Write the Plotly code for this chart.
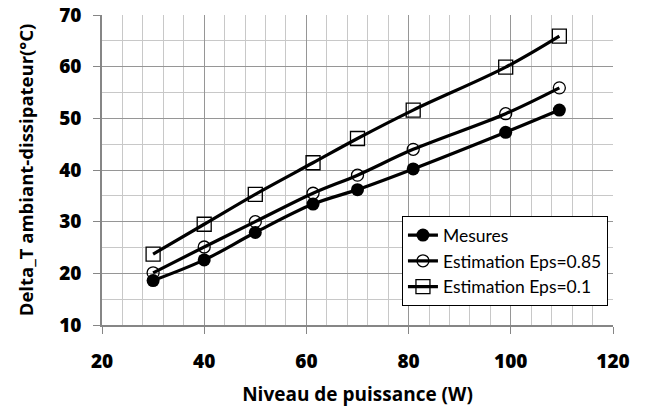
import plotly.graph_objects as go

puissance = [30, 40, 50, 61.3, 70, 80.9, 99, 109.5]
mesures = [18.6, 22.6, 27.9, 33.4, 36.2, 40.2, 47.3, 51.6]
eps_085 = [20.1, 25.1, 30.0, 35.5, 39.0, 44.0, 50.9, 55.9]
eps_01 = [23.7, 29.5, 35.3, 41.4, 46.1, 51.6, 59.9, 65.9]

series_names = ["Mesures", "Estimation Eps=0.85", "Estimation Eps=0.1"]

x_range = [20, 120]
y_range = [10, 70]

FONT = "Open Sans"
MINOR_GRID = "#c8c8c8"

fig = go.Figure()
fig.add_trace(go.Scatter(
    x=puissance, y=mesures, name=series_names[0], mode="lines+markers",
    legendgroup="a",
    line=dict(color="black", width=3.2, shape="spline"),
    marker=dict(symbol="circle", size=13, color="black"),
))
fig.add_trace(go.Scatter(
    x=puissance, y=eps_085, name=series_names[1], mode="lines+markers",
    legendgroup="b",
    line=dict(color="black", width=3.2, shape="spline"),
    marker=dict(symbol="circle-open", size=12, color="black", line=dict(width=1.3, color="black")),
))
fig.add_trace(go.Scatter(
    x=puissance, y=eps_01, name=series_names[2], mode="lines+markers",
    legendgroup="c",
    line=dict(color="black", width=3.2, shape="spline"),
    marker=dict(symbol="square-open", size=14, color="black", line=dict(width=1.3, color="black")),
))

tickfont = dict(family=FONT, size=19, color="black", weight=800)

axis_common = dict(
    showline=True, linecolor="#868686", linewidth=1.5,
    ticks="outside", ticklen=7, tickcolor="#868686", tickwidth=1,
    showgrid=True, gridcolor="#969696", gridwidth=1,
    zeroline=False, automargin=False,
    tickfont=tickfont,
)

fig.update_layout(
    xaxis=dict(
        range=x_range, tickmode="linear", dtick=20, tick0=20,
        minor=dict(tickmode="linear", tick0=20, dtick=4, showgrid=True, ticks="",
                   gridcolor=MINOR_GRID, gridwidth=1),
        title=dict(text="Niveau de puissance (W)",
                   font=dict(family=FONT, size=19, color="black", weight=700), standoff=16),
        ticklabelstandoff=11,
        **axis_common,
    ),
    yaxis=dict(
        range=y_range, tickmode="linear", dtick=10, tick0=10,
        minor=dict(tickmode="linear", tick0=10, dtick=5, showgrid=True, ticks="",
                   gridcolor=MINOR_GRID, gridwidth=1),
        title=dict(text="Delta_T ambiant-dissipateur(°C)",
                   font=dict(family=FONT, size=18.5, color="black", weight=700), standoff=21),
        ticklabelstandoff=8,
        **axis_common,
    ),
    width=646, height=407,
    margin=dict(l=102, r=33, t=15, b=82, autoexpand=False),
    paper_bgcolor="white", plot_bgcolor="white",
    font=dict(family=FONT, color="black"),
    showlegend=True,
    legend=dict(
        x=0.587, y=0.351, xanchor="left", yanchor="top",
        bgcolor="white", bordercolor="black", borderwidth=1,
        font=dict(family="Lato", size=17.5, color="black"),
        traceorder="grouped", tracegroupgap=0,
    ),
)

fig.write_html("out.html", config={"displayModeBar": False},
               post_script="document.body.style.margin='0';")
